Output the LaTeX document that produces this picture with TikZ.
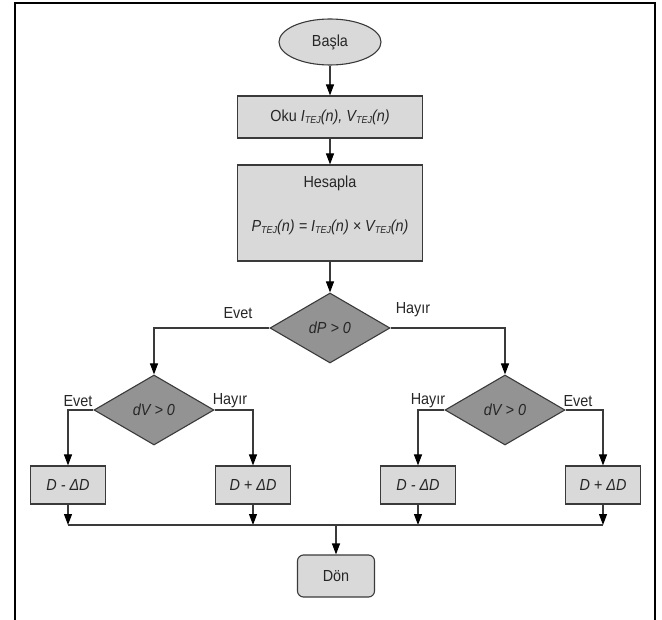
\documentclass[tikz,border=0pt]{standalone}
\usepackage{fontspec}
\setmainfont{Liberation Sans}[FakeStretch=0.9]
\usetikzlibrary{shapes,positioning,arrows.meta}
\definecolor{boxgray}{HTML}{D9D9D9}
\definecolor{diagray}{HTML}{939393}
\definecolor{edgegray}{HTML}{3A3A3A}
\newcommand{\tej}{\raisebox{-0.3ex}{\fontsize{10}{10}\selectfont TEJ}}

\begin{document}
\begin{tikzpicture}[x=1pt, y=-1pt, font=\fontsize{16}{19}\selectfont, text=black!85]
  \tikzstyle{snode} = [ellipse, draw=edgegray, line width=1.1pt, fill=boxgray, minimum width=102pt, minimum height=46pt]
  \tikzstyle{pnode} = [rectangle, draw=edgegray, line width=1.1pt, fill=boxgray, minimum width=185pt, minimum height=42pt]
  \tikzstyle{dnode} = [diamond, draw=edgegray, line width=1.1pt, fill=diagray, aspect=1.7, minimum width=120pt, minimum height=70pt, inner sep=0pt]
  \tikzstyle{unode} = [rectangle, draw=edgegray, line width=1.1pt, fill=boxgray, minimum width=75pt, minimum height=38pt]
  \tikzstyle{rnode} = [rectangle, rounded corners=6pt, draw=edgegray, line width=1.1pt, fill=boxgray, minimum width=77pt, minimum height=42pt]
  \tikzstyle{lbl} = [inner sep=0pt]
  \tikzstyle{flow} = [draw=edgegray, line width=1.1pt, -{Triangle[width=8pt,length=11pt,color=black]}]
  \tikzstyle{plain} = [draw=edgegray, line width=1.1pt]

  \useasboundingbox (0,0) rectangle (662,620);
  \draw[line width=2pt] (15,620) -- (15,3) -- (655,3) -- (655,620);

  \node[snode] (start) at (330,42) {Başla};
  \node[pnode] (read) at (330,117) {Oku \textit{I\tej(n), V\tej(n)}};
  \node[pnode, minimum height=96pt] (calc) at (330,213) {};
  \node (calctitle) at (330,183) {Hesapla};
  \node (calcform) at (330,227) {\textit{P\tej(n) = I\tej(n) × V\tej(n)}};

  \node[dnode] (dP) at (330,328) {\textit{dP > 0}};
  \node[dnode] (dVl) at (154,410) {\textit{dV > 0}};
  \node[dnode] (dVr) at (505,410) {\textit{dV > 0}};

  \node[unode] (dec1) at (68,485) {\textit{D - ΔD}};
  \node[unode] (inc1) at (253,485) {\textit{D + ΔD}};
  \node[unode] (dec2) at (418,485) {\textit{D - ΔD}};
  \node[unode] (inc2) at (603,485) {\textit{D + ΔD}};

  \node[rnode] (ret) at (336,576) {Dön};

  \node[lbl] (ytop) at (238,313) {Evet};
  \node[lbl] (ntop) at (413,310) {Hayır};
  \node[lbl] (yl) at (78,401) {Evet};
  \node[lbl] (nl) at (230,401) {Hayır};
  \node[lbl] (nr) at (428,401) {Hayır};
  \node[lbl] (yr) at (578,401) {Evet};

  \coordinate (mline) at (336,525);

  % connections
  \draw[flow] (start) -- (read);
  \draw[flow] (read) -- (calc);
  \draw[flow] (calc) -- (dP);
  \draw[flow] (dP.west) -| (dVl);
  \draw[flow] (dP.east) -| (dVr);
  \draw[flow] (dVl.west) -| (dec1);
  \draw[flow] (dVl.east) -| (inc1);
  \draw[flow] (dVr.west) -| (dec2);
  \draw[flow] (dVr.east) -| (inc2);

  \draw[flow] (dec1.south) -- (dec1.south |- mline);
  \draw[flow] (inc1.south) -- (inc1.south |- mline);
  \draw[flow] (dec2.south) -- (dec2.south |- mline);
  \draw[flow] (inc2.south) -- (inc2.south |- mline);
  \draw[plain] (dec1.south |- mline) -- (inc2.south |- mline);
  \draw[flow] (mline) -- (ret);
\end{tikzpicture}
\end{document}
